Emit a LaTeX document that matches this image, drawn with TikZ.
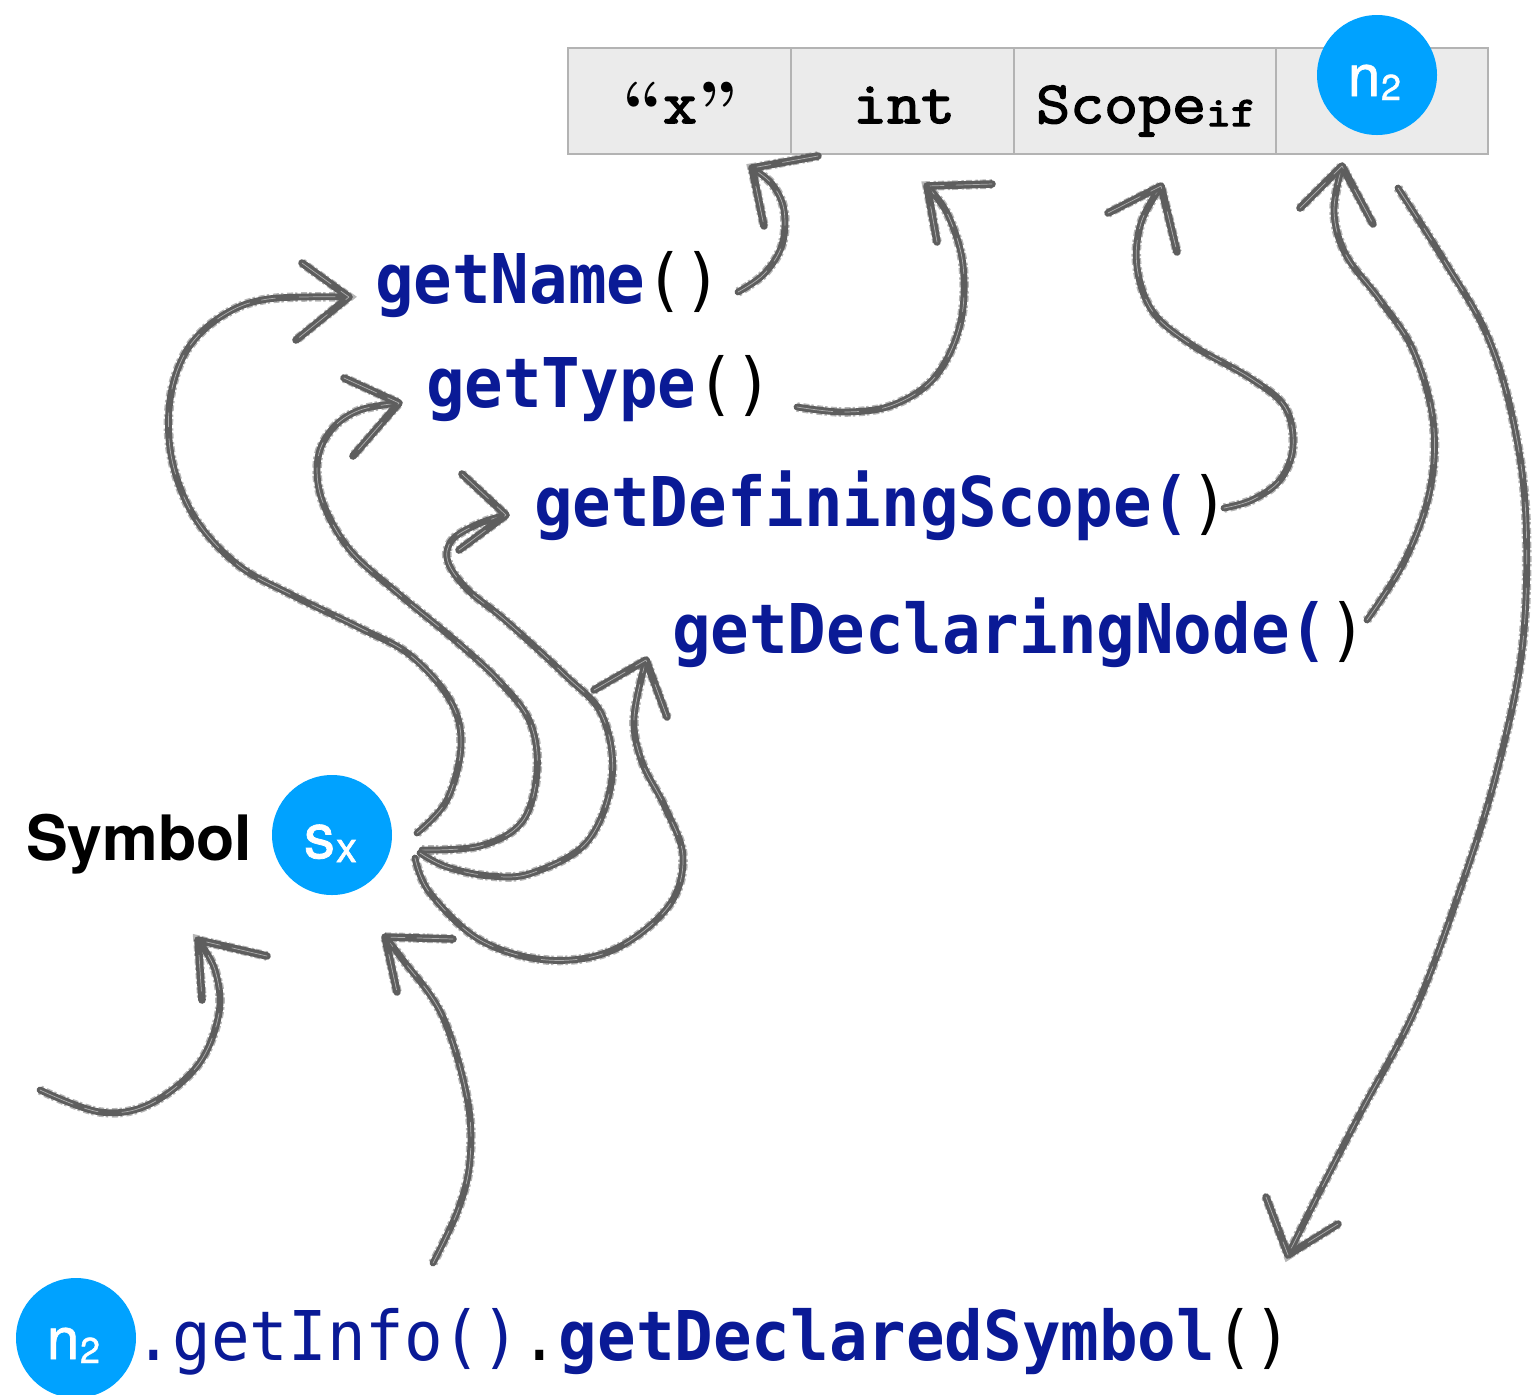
\documentclass[tikz,border=0pt]{standalone}
\usepackage{fontspec}
\usetikzlibrary{calc}
\newfontfamily\codefont{DejaVu Sans Mono}[FakeStretch=0.935]
\newfontfamily\tabfont{Latin Modern Mono}[FakeStretch=1.1, FakeBold=2.5]
\newfontfamily\tabsubfont{Latin Modern Mono}[FakeStretch=1.15, FakeBold=3.5]
\newfontfamily\quotefont{Latin Modern Roman}
\newfontfamily\helv{TeX Gyre Heros}
\newfontfamily\helvdot{TeX Gyre Heros}[FakeBold=1.2]
\definecolor{codeblue}{HTML}{0A1A96}
\definecolor{dotblue}{HTML}{00A2FF}
\definecolor{cellfill}{HTML}{EBEBEB}
\definecolor{cellline}{HTML}{B3B3B3}
\definecolor{brushgrey}{HTML}{5E5E5E}
\begin{document}
\begin{tikzpicture}[x=0.5pt, y=-0.5pt,
  lbl/.style={inner sep=0pt, outer sep=0pt, anchor=base west},
  code/.style={lbl, font=\codefont\fontsize{34.3}{40}\selectfont},
  celltext/.style={inner sep=0pt, outer sep=0pt, anchor=base, font=\tabfont\fontsize{30}{34}\selectfont},
  cell/.style={draw=cellline, fill=cellfill, line width=1.4pt, minimum height=53pt, inner sep=0pt, outer sep=0pt},
  dot/.style={circle, fill=dotblue, draw=none, minimum size=60pt, inner sep=0pt},
  dotbig/.style={lbl, text=white},
  brush/.style={draw=brushgrey, line width=3.4pt, line cap=round, line join=round,
    preaction={draw=brushgrey, draw opacity=0.45, line width=4.8pt, dash pattern=on 1.2pt off 1.8pt on 3pt off 1pt},
    postaction={draw=white, draw opacity=0.5, line width=0.35pt, dash pattern=on 18pt off 6pt on 7pt off 12pt}},
  brushhead/.style={brush, line width=3.8pt},
]
\useasboundingbox (0,0) rectangle (1532,1394);

% ---- table ----
\node[cell, minimum width=111.5pt] (cx) at (679.5,101) {};
\node[cell, minimum width=111.5pt] (cint) at (902.5,101) {};
\node[cell, minimum width=131pt] (cscope) at (1145,101) {};
\node[cell, minimum width=106pt] (cn2) at (1382,101) {};
\node[celltext] (tx) at (680,123) {{\quotefont\bfseries\fontsize{37}{39}\selectfont\raisebox{-5pt}{“}}x{\quotefont\bfseries\fontsize{37}{39}\selectfont\raisebox{-5pt}{”}}};
\node[celltext] (tint) at (904,123) {int};
\node[celltext] (tscope) at (1146,123) {Scope{\tabsubfont\fontsize{21}{24}\selectfont\raisebox{-1.5pt}{if}}};

% ---- n2 circle in table ----
\node[dot] (n2top) at (1377,75) {};
\node[dotbig, font=\helvdot\fontsize{29}{32}\selectfont] (n2topn) at (1348,96) {n};
\node[dotbig, font=\helvdot\fontsize{18}{20}\selectfont] (n2topi) at (1381,100) {2};

% ---- method labels ----
\node[code] (gn) at (375,303) {\textcolor{codeblue}{\bfseries getName}()};
\node[code] (gt) at (426,407) {\textcolor{codeblue}{\bfseries getType}()};
\node[code] (gds) at (534,526) {\textcolor{codeblue}{\bfseries getDefiningScope(})};
\node[code] (gdn) at (672,653) {\textcolor{codeblue}{\bfseries getDeclaringNode(})};

% ---- symbol ----
\node[lbl, font=\helv\bfseries\fontsize{31.3}{36}\selectfont] (symlbl) at (26,860) {Symbol};
\node[dot] (sx) at (332,835) {};
\node[dotbig, font=\helvdot\fontsize{31}{34}\selectfont] (sxs) at (304,858) {s};
\node[dotbig, font=\helvdot\fontsize{21}{24}\selectfont] (sxx) at (336,862) {x};

% ---- bottom expression ----
\node[dot] (n2bot) at (76,1338) {};
\node[dotbig, font=\helvdot\fontsize{29}{32}\selectfont] (n2botn) at (47,1359) {n};
\node[dotbig, font=\helvdot\fontsize{18}{20}\selectfont] (n2boti) at (80,1363) {2};
\node[code] (expr) at (134,1360) {\textcolor{codeblue}{.getInfo()}.\textcolor{codeblue}{\bfseries getDeclaredSymbol}()};

% ---- arrow end points ----
\coordinate (a1s) at (738,292);  \coordinate (a1t) at (752,168);
\coordinate (a2s) at (797,407);  \coordinate (a2t) at (927,186);
\coordinate (a3s) at (1224,508); \coordinate (a3t) at (1161,186);
\coordinate (a4s) at (1367,620); \coordinate (a4t) at (1342,166);
\coordinate (a5s) at (1398,188); \coordinate (a5t) at (1288,1255);
\coordinate (b1s) at (417,833);  \coordinate (b1t) at (349,297);
\coordinate (b2s) at (422,850);  \coordinate (b2t) at (399,403);
\coordinate (b3s) at (420,853);  \coordinate (b3t) at (506,515);
\coordinate (b4s) at (415,858);  \coordinate (b4t) at (646,660);
\coordinate (c1s) at (40,1090);  \coordinate (c1t) at (198,940);
\coordinate (c2s) at (433,1263); \coordinate (c2t) at (385,937);

% getName -> "x"
\draw[brush] plot[smooth, tension=0.6] coordinates {(a1s) (764,274) (782,245) (784,210) (772,184) (a1t)};
\draw[brushhead] (818,156) -- (a1t) -- (764,226);
% getType -> int
\draw[brush] plot[smooth, tension=0.6] coordinates {(a2s) (845,412) (893,405) (935,377) (960,325) (963,265) (948,215) (a2t)};
\draw[brushhead] (992,184) -- (a2t) -- (937,242);
% getDefiningScope -> Scope
\draw[brush] plot[smooth, tension=0.6] coordinates {(a3s) (1252,500) (1280,480) (1293,447) (1285,407) (1250,378) (1192,345) (1153,312) (1137,267) (1141,223) (a3t)};
\draw[brushhead] (1108,213) -- (a3t) -- (1177,252);
% getDeclaringNode -> n2
\draw[brush] plot[smooth, tension=0.6] coordinates {(a4s) (1405,560) (1430,490) (1433,420) (1413,350) (1380,300) (1346,255) (1334,212) (a4t)};
\draw[brushhead] (1300,208) -- (a4t) -- (1373,224);
% n2 -> getDeclaredSymbol
\draw[brush] plot[smooth, tension=0.6] coordinates {(a5s) (1445,262) (1487,335) (1513,420) (1526,520) (1522,650) (1496,775) (1460,890) (1415,1010) (1362,1110) (1318,1195) (a5t)};
\draw[brushhead] (1266,1197) -- (a5t) -- (1338,1224);
% sx -> getName
\draw[brush] plot[smooth, tension=0.6] coordinates {(b1s) (447,800) (461,745) (450,700) (410,655) (360,628) (292,595) (238,565) (195,518) (172,460) (170,400) (187,350) (222,316) (268,299) (b1t)};
\draw[brushhead] (302,263) -- (b1t) -- (296,340);
% sx -> getType
\draw[brush] plot[smooth, tension=0.6] coordinates {(b2s) (480,846) (522,822) (537,772) (530,722) (500,682) (457,642) (400,595) (350,550) (322,500) (318,458) (333,428) (360,410) (b2t)};
\draw[brushhead] (344,378) -- (b2t) -- (353,456);
% sx -> getDefiningScope
\draw[brush] plot[smooth, tension=0.6] coordinates {(b3s) (447,867) (490,876) (532,873) (587,842) (612,778) (602,715) (565,675) (505,620) (468,590) (448,562) (452,540) (478,524) (b3t)};
\draw[brushhead] (462,474) -- (b3t) -- (459,550);
% sx -> getDeclaringNode
\draw[brush] plot[smooth, tension=0.6] coordinates {(b4s) (430,893) (480,940) (547,960) (613,950) (668,907) (683,857) (665,807) (642,762) (634,718) (b4t)};
\draw[brushhead] (594,690) -- (b4t) -- (667,717);
% free arrow bottom left
\draw[brush] plot[smooth, tension=0.6] coordinates {(c1s) (100,1112) (150,1104) (198,1065) (219,1013) (215,970) (c1t)};
\draw[brushhead] (267,956) -- (c1t) -- (202,1000);
% getInfo -> sx
\draw[brush] plot[smooth, tension=0.6] coordinates {(c2s) (458,1210) (470,1160) (467,1097) (442,1015) (403,960) (c2t)};
\draw[brushhead] (453,939) -- (c2t) -- (397,992);
\end{tikzpicture}
\end{document}
